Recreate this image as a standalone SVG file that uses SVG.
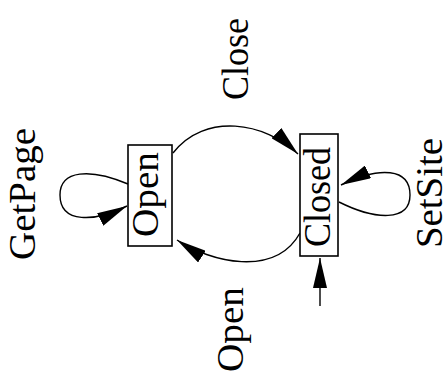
<svg xmlns="http://www.w3.org/2000/svg" width="446" height="391" viewBox="0 0 446 391">
  <style>
    .box { fill: #fff; stroke: #000; stroke-width: 1.6; }
    .edge { fill: none; stroke: #000; stroke-width: 1.4; marker-end: url(#arrow); }
    .lbl { font-family: 'Liberation Serif', 'DejaVu Serif', serif; font-size: 37px; fill: #000; text-anchor: middle; }
  </style>
  <defs>
    <marker id="arrow" viewBox="0 0 30 14" refX="30" refY="7" markerWidth="30" markerHeight="14" markerUnits="userSpaceOnUse" orient="auto">
      <path d="M0,0 L30,7 L0,14 z" fill="#000"/>
    </marker>
  </defs>
  <rect width="446" height="391" fill="#fff"/>

  <g id="connectors">
    <!-- Open -> Closed (Close) -->
    <path class="edge" d="M173,153 C205,112 265,122 298,154"/>
    <!-- Closed -> Open (Open) -->
    <path class="edge" d="M300,233 C275,278 210,262 177,240"/>
    <!-- Open self-loop (GetPage) -->
    <path class="edge" d="M128,184 C90,168 60,170 60,195 C60,224 95,222 127,206"/>
    <!-- Closed self-loop (SetSite) -->
    <path class="edge" d="M339,202 C375,220 410,222 410,195 C410,168 380,166 341,185"/>
    <!-- initial state arrow -->
    <path class="edge" d="M320,306 L320,258"/>
  </g>

  <g id="node-open">
    <rect class="box" x="128" y="145" width="44" height="101"/>
    <text class="lbl" font-family="Liberation Serif, serif" transform="translate(158,194.5) rotate(-90)" textLength="85" lengthAdjust="spacingAndGlyphs">Open</text>
  </g>

  <g id="node-closed">
    <rect class="box" x="300" y="134" width="38" height="122"/>
    <text class="lbl" font-family="Liberation Serif, serif" transform="translate(330,197) rotate(-90)" textLength="100" lengthAdjust="spacingAndGlyphs">Closed</text>
  </g>

  <g id="labels" font-family="Liberation Serif, serif">
    <text class="lbl" transform="translate(248,59) rotate(-90)" textLength="82" lengthAdjust="spacingAndGlyphs">Close</text>
    <text class="lbl" transform="translate(243,329.5) rotate(-90)" textLength="85" lengthAdjust="spacingAndGlyphs">Open</text>
    <text class="lbl" transform="translate(35,194) rotate(-90)" textLength="132" lengthAdjust="spacingAndGlyphs">GetPage</text>
    <text class="lbl" transform="translate(442,193) rotate(-90)" textLength="110" lengthAdjust="spacingAndGlyphs">SetSite</text>
  </g>
</svg>
